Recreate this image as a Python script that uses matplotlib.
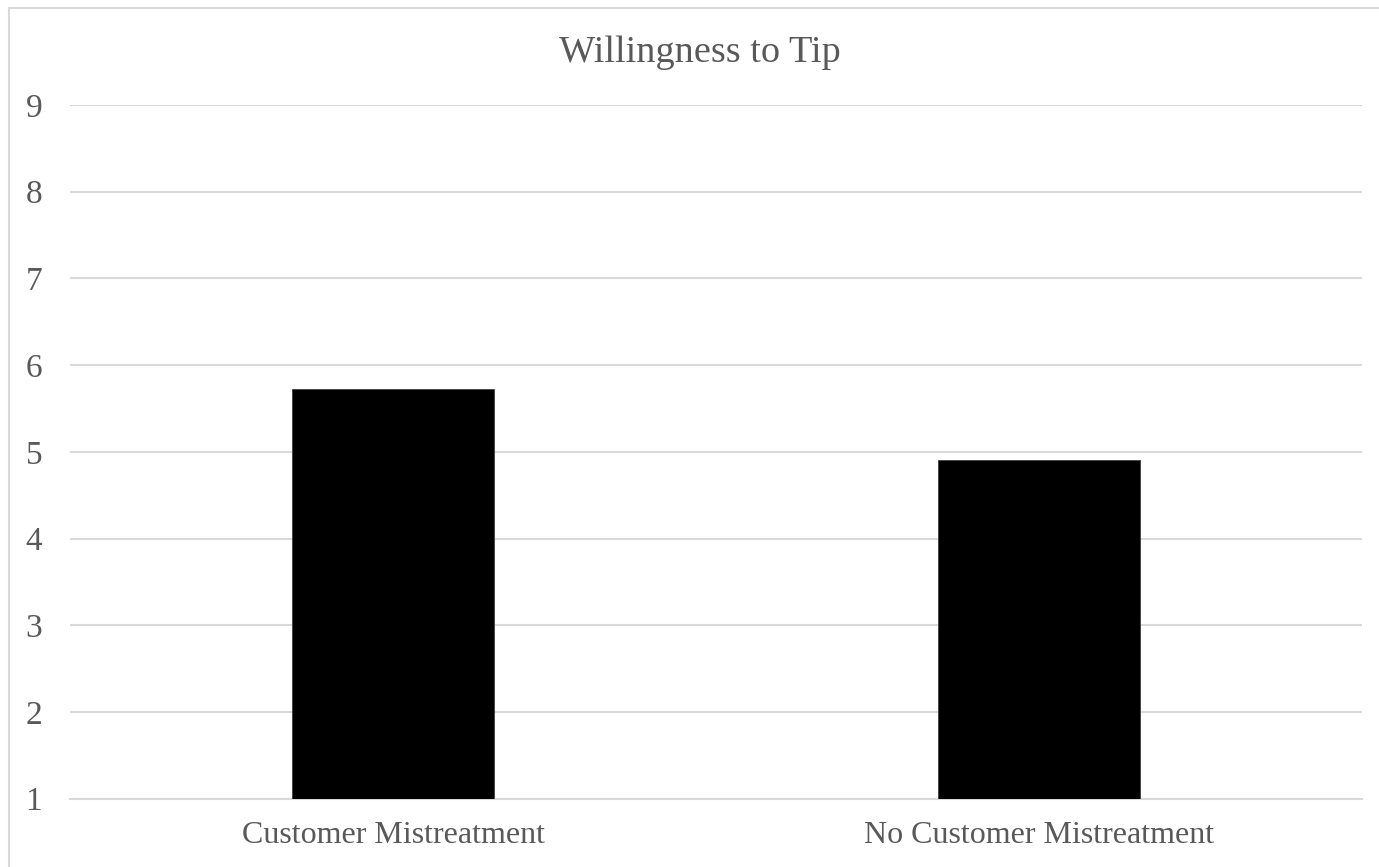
import matplotlib.pyplot as plt
from matplotlib.lines import Line2D

# values
categories = ["Customer Mistreatment", "No Customer Mistreatment"]
values = [5.73, 4.91]
title = "Willingness to Tip"

text_color = "#595959"
grid_color = "#d9d9d9"

plt.rcParams['font.family'] = ['Liberation Serif', 'DejaVu Serif']

fig = plt.figure(figsize=(13.79, 8.67), dpi=100)
W, H = 1379, 867

# plot area in pixels
left, right, top, bottom = 70, 1362, 105, 798.6
ax = fig.add_axes([left / W, 1 - bottom / H, (right - left) / W, (bottom - top) / H])

x = range(len(categories))
ax.bar(x, [v - 1 for v in values], bottom=1, width=0.314, color="black",
       edgecolor="#404040", linewidth=0.6, zorder=3)

ax.set_xlim(-0.5, len(categories) - 0.5)
ax.set_ylim(1, 9)
ax.set_yticks(range(1, 10))
ax.set_xticks(list(x))
ax.set_xticklabels(categories)

ax.yaxis.grid(True, color=grid_color, linewidth=1.5, zorder=0)
ax.set_axisbelow(True)
for side in ["top", "right", "left"]:
    ax.spines[side].set_visible(False)
ax.spines["bottom"].set_color(grid_color)
ax.spines["bottom"].set_linewidth(1.5)

ax.tick_params(axis="both", length=0, colors=text_color)
ax.tick_params(axis="y", pad=20, labelsize=24)
ax.tick_params(axis="x", pad=16, labelsize=23)

fig.text(700 / W, 1 - 53 / H, title, ha="center", va="center",
         fontsize=27.5, color=text_color)

# chart border (top and left edges visible)
fig.add_artist(Line2D([8.5 / W, 8.5 / W], [0, 1 - 7.5 / H], transform=fig.transFigure,
                      color=grid_color, linewidth=1.5))
fig.add_artist(Line2D([8.5 / W, 1], [1 - 7.5 / H, 1 - 7.5 / H], transform=fig.transFigure,
                      color=grid_color, linewidth=1.5))

fig.savefig("out.png", dpi=100, facecolor="white")
